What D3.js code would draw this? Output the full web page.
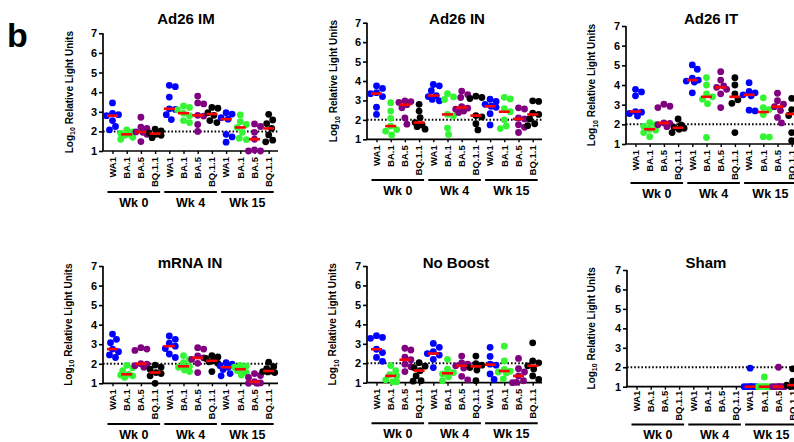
<!DOCTYPE html>
<html lang="en">
<head>
  <meta charset="UTF-8" />
  <title>Relative Light Units by boost group</title>
  <script src="https://d3js.org/d3.v7.min.js"></script>
  <style>
    body { margin: 0; background: #fff; }
    svg { display: block; font-family: "Liberation Sans", Arial, sans-serif; font-weight: bold; }
  </style>
</head>
<body>
  <div id="chart"></div>
  <script>
    // ----- Data -----
    const variants = ["WA1", "BA.1", "BA.5", "BQ.1.1"];
    const weeks = ["Wk 0", "Wk 4", "Wk 15"];
    const yTicks = [1, 2, 3, 4, 5, 6, 7];
    const cutoff = 2;
    const titles = ["Ad26 IM", "Ad26 IN", "Ad26 IT", "mRNA IN", "No Boost", "Sham"];

    // each panel: 12 columns, order Wk0 WA1/BA.1/BA.5/BQ.1.1, Wk4 ..., Wk15 ...
    const ad26IM = [
      [3.45, 2.92, 2.85, 2.8, 2.55, 2.25, 2.08],
      [2.08, 1.98, 1.9, 1.85, 1.8, 1.7, 1.6],
      [2.72, 2.22, 2.15, 1.97, 1.95, 1.85, 1.48],
      [2.12, 2.02, 1.92, 1.85, 1.8, 1.68],
      [4.35, 4.28, 3.75, 3.15, 3.12, 2.85, 2.6],
      [3.3, 3.22, 3.1, 2.93, 2.8, 2.55, 2.45],
      [3.8, 3.45, 3.4, 2.82, 2.78, 2.35, 2.0],
      [3.22, 3.18, 2.95, 2.82, 2.55, 2.45],
      [2.95, 2.88, 2.7, 2.62, 1.85, 1.72, 1.45],
      [2.84, 2.5, 2.35, 2.2, 1.95, 1.65, 1.58],
      [2.38, 2.25, 1.95, 1.6, 1.05, 1.0, 1.0],
      [2.87, 2.58, 2.4, 2.15, 1.82, 1.55, 1.47]
    ];
    const ad26IN = [
      [3.75, 3.62, 3.4, 3.35, 3.2, 2.65, 2.28],
      [2.88, 2.45, 2.08, 1.68, 1.5, 1.42, 1.22],
      [2.98, 2.94, 2.9, 2.78, 2.62, 2.1, 1.78],
      [2.8, 2.45, 2.12, 1.86, 1.74, 1.65, 1.52],
      [3.82, 3.75, 3.5, 3.25, 3.2, 3.05, 2.98],
      [3.35, 3.18, 3.05, 2.28, 2.2, 1.58, 1.25],
      [3.48, 3.3, 3.15, 2.68, 2.6, 2.55, 2.45, 2.38],
      [3.22, 3.15, 3.1, 2.22, 2.15, 1.8, 1.48],
      [3.06, 2.95, 2.8, 2.7, 2.65, 2.32, 1.74],
      [3.16, 3.08, 2.58, 2.42, 2.0, 1.68, 1.55],
      [2.62, 2.56, 2.1, 2.05, 1.75, 1.62, 1.35],
      [2.98, 2.95, 2.35, 2.28, 2.05, 1.8, 1.7]
    ];
    const ad26IT = [
      [3.78, 3.65, 3.45, 2.65, 2.62, 2.55, 2.42],
      [2.08, 1.98, 1.9, 1.75, 1.7, 1.58, 1.37],
      [3.02, 2.92, 2.85, 2.07, 2.05, 1.98, 1.88],
      [2.27, 1.97, 1.85, 1.8, 1.75, 1.58],
      [5.02, 4.8, 4.35, 4.25, 4.2, 4.15, 3.6],
      [4.38, 4.0, 3.55, 3.4, 3.28, 3.05, 1.33],
      [4.68, 4.25, 3.95, 3.88, 3.78, 3.55, 2.85],
      [4.37, 4.0, 3.55, 3.25, 3.07, 1.58],
      [4.12, 3.68, 3.6, 3.5, 3.45, 2.72, 2.68],
      [3.35, 2.85, 2.75, 2.5, 1.37, 1.35],
      [3.58, 3.2, 3.02, 2.9, 2.7, 2.35, 2.07],
      [3.32, 2.75, 2.6, 2.45, 1.58, 1.17]
    ];
    const mrnaIN = [
      [3.52, 3.25, 3.08, 2.75, 2.62, 2.45, 2.32],
      [1.92, 1.8, 1.65, 1.46, 1.42, 1.38, 1.3],
      [2.82, 2.75, 2.68, 2.0, 1.98, 1.9, 1.82],
      [1.93, 1.82, 1.72, 1.55, 1.5, 1.38, 1.0],
      [3.42, 3.25, 3.05, 2.9, 2.78, 2.5, 2.32],
      [2.42, 2.22, 2.05, 1.87, 1.82, 1.68, 1.6],
      [2.82, 2.75, 2.4, 2.3, 2.22, 2.02, 1.55],
      [2.42, 2.35, 2.28, 2.15, 2.1, 2.02, 1.6],
      [2.05, 1.98, 1.9, 1.82, 1.7, 1.5, 1.38],
      [1.92, 1.88, 1.82, 1.72, 1.65, 1.55, 1.42],
      [1.5, 1.4, 1.3, 1.08, 1.02, 1.0, 1.0],
      [2.08, 1.85, 1.75, 1.63, 1.6, 1.58, 1.55]
    ];
    const noBoost = [
      [3.42, 3.33, 3.28, 2.72, 2.55, 2.3, 2.1],
      [1.88, 1.62, 1.42, 1.35, 1.15, 1.05, 1.05],
      [2.77, 2.68, 2.32, 2.18, 1.95, 1.82, 1.57],
      [2.03, 1.85, 1.78, 1.62, 1.35, 1.1, 1.08],
      [3.02, 2.82, 2.6, 2.5, 2.42, 2.2, 1.78],
      [2.2, 1.7, 1.52, 1.45, 1.3, 1.1],
      [2.37, 2.02, 1.96, 1.87, 1.75, 1.33, 1.15],
      [2.37, 1.98, 1.9, 1.78, 1.65, 1.1],
      [2.82, 2.35, 1.95, 1.9, 1.45, 1.17],
      [2.88, 2.12, 1.68, 1.6, 1.55, 1.5, 1.2],
      [2.25, 1.72, 1.55, 1.35, 1.1, 1.02, 1.0],
      [3.05, 2.12, 2.02, 1.87, 1.7, 1.35, 1.17]
    ];
    const sham = [
      [], [], [], [],
      [], [], [], [],
      [1.95, 1.0, 1.0, 1.0, 1.0, 1.0, 1.0],
      [1.5, 1.0, 1.0, 1.0, 1.0, 1.0, 1.0],
      [2.0, 1.0, 1.0, 1.0, 1.0, 1.0, 1.0],
      [1.92, 1.28, 1.22, 1.08, 1.05, 1.0, 1.0]
    ];
    const panelData = [ad26IM, ad26IN, ad26IT, mrnaIN, noBoost, sham];

    // ----- Layout (per panel) -----
    const colors = ["#0000ff", "#33f533", "#800080", "#000000"];
    const panels = [
      { ax: 103, top: 33.3, bot: 151,   ul: 192,   tx: 186, ty: 23.5,  lo: 6, yt: 72.5 },
      { ax: 367, top: 22.7, bot: 139.3, ul: 180,   tx: 457, ty: 23.5,  lo: 6, yt: 337 },
      { ax: 626, top: 26,   bot: 144,   ul: 183,   tx: 711, ty: 23.5,  lo: 6, yt: 595 },
      { ax: 103, top: 266,  bot: 383.3, ul: 424,   tx: 190, ty: 267.5, lo: 6, yt: 71.5 },
      { ax: 367, top: 266,  bot: 382.7, ul: 423.3, tx: 456, ty: 267.5, lo: 6, yt: 336 },
      { ax: 627, top: 270,  bot: 386.7, ul: 424.5, tx: 706, ty: 267.5, lo: 4, yt: 594.5 }
    ];
    const R = 3.4;

    const svg = d3.select('#chart').append('svg')
      .attr('width', 794).attr('height', 442);
    svg.append('rect').attr('width', 794).attr('height', 442).attr('fill', '#fff');

    svg.append('text').attr('x', 7).attr('y', 47)
      .attr('font-size', 34).text('b');

    // simple beeswarm: sideways offset, capped so dense groups overlap
    function swarm(vals, cx, y) {
      const pts = vals.map(v => ({ v, y: y(v) })).sort((a, b) => a.y - b.y);
      const placed = [];
      const cands = [0];
      for (let d = 1; d <= 6; d += 1) { cands.push(d, -d); }
      pts.forEach(p => {
        let best = 0, bestD = -1;
        for (const dx of cands) {
          let md = Infinity;
          placed.forEach(q => { md = Math.min(md, Math.hypot(q.dx - dx, q.y - p.y)); });
          if (md >= 2 * R * 0.95) { best = dx; bestD = Infinity; break; }
          if (md > bestD + 0.01) { bestD = md; best = dx; }
        }
        p.dx = best;
        placed.push(p);
      });
      return pts.map(p => ({ x: cx + p.dx, y: p.y }));
    }

    const cols = d3.range(12);

    panels.forEach((P, pi) => {
      const g = svg.append('g');
      const data = panelData[pi];
      const y = d3.scaleLinear().domain([1, 7]).range([P.bot, P.top]);
      const x = d3.scalePoint().domain(cols).range([P.ax + 9.5, P.ax + 9.5 + 11 * 14.2]);
      const xEnd = P.ax + 175;

      // title
      g.append('text').attr('x', P.tx).attr('y', P.ty)
        .attr('text-anchor', 'middle').attr('font-size', 15).text(titles[pi]);

      // y axis
      const yAxis = g.append('g').attr('transform', `translate(${P.ax},0)`)
        .call(d3.axisLeft(y).tickValues(yTicks).tickSize(4).tickPadding(2).tickFormat(d3.format('d')));
      yAxis.select('.domain').remove();
      yAxis.selectAll('line').attr('stroke-width', 1.6);
      yAxis.selectAll('text').attr('font-size', 11).attr('font-family', null).attr('font-weight', 'bold').attr('fill', '#000');
      g.append('line').attr('x1', P.ax).attr('x2', P.ax)
        .attr('y1', P.top).attr('y2', P.bot).attr('stroke', '#000').attr('stroke-width', 1.7);

      // y title with subscript
      const yt = g.append('text')
        .attr('transform', `translate(${P.yt},${(P.top + P.bot) / 2}) rotate(-90)`)
        .attr('text-anchor', 'middle').attr('font-size', 10);
      yt.append('tspan').text('Log');
      yt.append('tspan').attr('font-size', 7).attr('dy', 2.5).text('10');
      yt.append('tspan').attr('dy', -2.5).text(' Relative Light Units');

      // x axis
      const xAxis = g.append('g').attr('transform', `translate(0,${P.bot})`)
        .call(d3.axisBottom(x).tickSize(3).tickFormat(''));
      xAxis.select('.domain').remove();
      xAxis.selectAll('line').attr('stroke-width', 1.4);
      g.append('line').attr('x1', P.ax - 0.8).attr('x2', xEnd)
        .attr('y1', P.bot).attr('y2', P.bot).attr('stroke', '#000').attr('stroke-width', 1.7);

      cols.forEach(c => {
        g.append('text')
          .attr('transform', `translate(${x(c)},${P.bot + P.lo}) rotate(-90)`)
          .attr('text-anchor', 'end').attr('dy', '0.35em')
          .attr('font-size', 9.5).text(variants[c % 4]);
      });

      // group underlines and labels
      weeks.forEach((w, wi) => {
        const x1 = x(wi * 4) - 5, x2 = x(wi * 4 + 3) + 5;
        g.append('line').attr('x1', x1).attr('x2', x2).attr('y1', P.ul).attr('y2', P.ul)
          .attr('stroke', '#000').attr('stroke-width', 2);
        g.append('text').attr('x', (x1 + x2) / 2).attr('y', P.ul + 14.5)
          .attr('text-anchor', 'middle').attr('font-size', 12.5).text(w);
      });

      // cutoff line
      g.append('line').attr('x1', P.ax).attr('x2', xEnd)
        .attr('y1', y(cutoff)).attr('y2', y(cutoff))
        .attr('stroke', '#000').attr('stroke-width', 2).attr('stroke-dasharray', '1.6,2');

      // points
      data.forEach((vals, c) => {
        if (!vals.length) return;
        const pts = swarm(vals, x(c), y);
        g.selectAll(null).data(pts).enter().append('circle')
          .attr('cx', d => d.x).attr('cy', d => d.y).attr('r', R)
          .attr('fill', colors[c % 4]);
      });

      // medians
      data.forEach((vals, c) => {
        if (!vals.length) return;
        const m = d3.median(vals);
        g.append('line').attr('x1', x(c) - 5.5).attr('x2', x(c) + 5.5)
          .attr('y1', y(m)).attr('y2', y(m))
          .attr('stroke', '#ff0000').attr('stroke-width', 2.6);
      });
    });
  </script>
</body>
</html>
